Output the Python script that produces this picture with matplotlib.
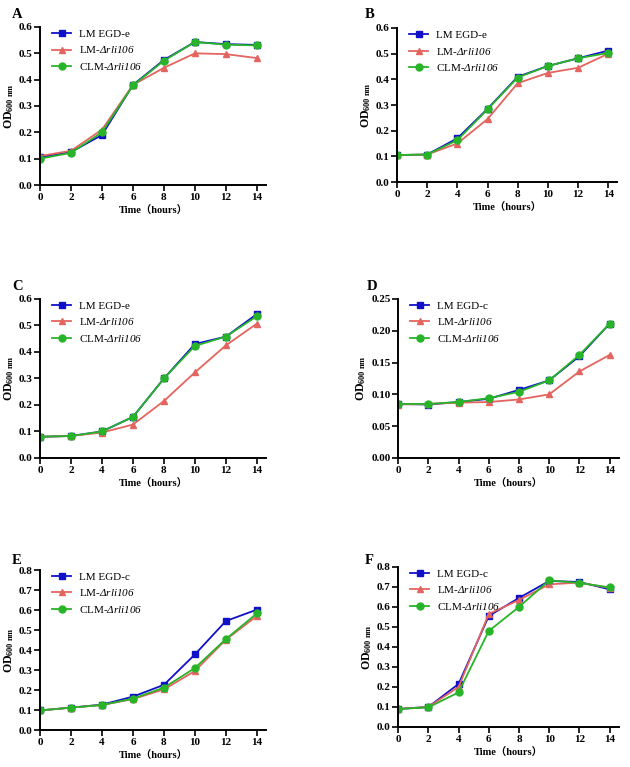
import matplotlib
matplotlib.use("Agg")
import matplotlib.pyplot as plt
import numpy as np

plt.rcParams["font.family"] = ["Liberation Serif", "Noto Sans CJK SC"]
plt.rcParams["mathtext.fontset"] = "custom"
# digits and capital Greek fall back to rm inside \mathit, so rm is italic here too
plt.rcParams["mathtext.rm"] = "Liberation Serif:italic"
plt.rcParams["mathtext.it"] = "Liberation Serif:italic"
plt.rcParams["mathtext.bf"] = "Liberation Serif:bold"

hours = [0, 2, 4, 6, 8, 10, 12, 14]
names = ["LM EGD-e", r"LM-$\mathit{\Delta rli106}$", r"CLM-$\mathit{\Delta rli106}$"]
names_c = ["LM EGD-c", r"LM-$\mathit{\Delta rli106}$", r"CLM-$\mathit{\Delta rli106}$"]

# panel A
a_wt = [0.105, 0.125, 0.19, 0.38, 0.475, 0.543, 0.535, 0.532]
a_mut = [0.11, 0.13, 0.21, 0.38, 0.445, 0.50, 0.497, 0.482]
a_comp = [0.10, 0.122, 0.20, 0.378, 0.472, 0.543, 0.533, 0.530]
# panel B
b_wt = [0.105, 0.107, 0.17, 0.285, 0.41, 0.452, 0.482, 0.512]
b_mut = [0.105, 0.107, 0.15, 0.245, 0.385, 0.425, 0.445, 0.50]
b_comp = [0.105, 0.107, 0.163, 0.283, 0.407, 0.452, 0.482, 0.503]
# panel C
c_wt = [0.08, 0.083, 0.10, 0.155, 0.30, 0.43, 0.458, 0.543]
c_mut = [0.08, 0.083, 0.096, 0.126, 0.215, 0.323, 0.425, 0.507]
c_comp = [0.08, 0.083, 0.10, 0.155, 0.30, 0.423, 0.458, 0.535]
# panel D
d_wt = [0.085, 0.084, 0.088, 0.093, 0.107, 0.122, 0.16, 0.211]
d_mut = [0.084, 0.085, 0.087, 0.088, 0.092, 0.100, 0.136, 0.162]
d_comp = [0.085, 0.085, 0.088, 0.094, 0.104, 0.122, 0.162, 0.211]
# panel E
e_wt = [0.098, 0.112, 0.127, 0.167, 0.226, 0.378, 0.545, 0.602]
e_mut = [0.098, 0.112, 0.125, 0.155, 0.203, 0.295, 0.452, 0.57]
e_comp = [0.098, 0.112, 0.125, 0.157, 0.212, 0.31, 0.455, 0.583]
# panel F
f_wt = [0.09, 0.10, 0.215, 0.555, 0.645, 0.73, 0.725, 0.688]
f_mut = [0.09, 0.10, 0.20, 0.565, 0.635, 0.713, 0.722, 0.695]
f_comp = [0.09, 0.098, 0.173, 0.48, 0.60, 0.733, 0.72, 0.698]

panels = [
    ("A", [0.0635, 0.7588, 0.359, 0.206], (a_wt, a_mut, a_comp), 0.6, 0.1, "%.1f", names, (12, 14)),
    ("B", [0.630, 0.7627, 0.35, 0.2008], (b_wt, b_mut, b_comp), 0.6, 0.1, "%.1f", names, (365, 14)),
    ("C", [0.0635, 0.4029, 0.359, 0.2073], (c_wt, c_mut, c_comp), 0.6, 0.1, "%.1f", names, (12, 287)),
    ("D", [0.632, 0.4029, 0.35, 0.2073], (d_wt, d_mut, d_comp), 0.25, 0.05, "%.2f", names_c, (367, 286)),
    ("E", [0.0635, 0.0482, 0.359, 0.2086], (e_wt, e_mut, e_comp), 0.8, 0.1, "%.1f", names_c, (12, 560)),
    ("F", [0.632, 0.0522, 0.35, 0.2086], (f_wt, f_mut, f_comp), 0.8, 0.1, "%.1f", names_c, (365, 560)),
]

colors = ["#1010c8", "#e4645f", "#28b428"]
markers = ["s", "^", "o"]

fig = plt.figure(figsize=(6.3, 7.67), dpi=100)

for tag, rect, series, ymax, ystep, fmt, labels, lpos in panels:
    ax = fig.add_axes(rect)
    for vals, col, mk, lab in zip(series, colors, markers, labels):
        ax.plot(hours, vals, color=col, marker=mk, markersize=5, lw=1.3, label=lab)
    ax.set_xlim(0, 14.6)
    ax.set_ylim(0, ymax)
    ax.set_xticks(hours)
    ax.set_yticks(np.arange(0, ymax + ystep / 2, ystep))
    ax.yaxis.set_major_formatter(matplotlib.ticker.FormatStrFormatter(fmt))
    for s in ["top", "right"]:
        ax.spines[s].set_visible(False)
    for s in ["left", "bottom"]:
        ax.spines[s].set_linewidth(1.4)
    ax.tick_params(direction="out", length=4, width=1.2, labelsize=8, pad=1.5)
    for t in ax.get_xticklabels() + ax.get_yticklabels():
        t.set_fontweight("bold")
    ax.set_xlabel("Time（hours）", fontsize=7.5, fontweight="bold", labelpad=3)
    ax.set_ylabel(r"$\mathbf{OD_{600\ nm}}$", fontsize=8.5, labelpad=2)
    ax.legend(loc="upper left", bbox_to_anchor=(0.01, 1.05), frameon=False, fontsize=8,
              handlelength=1.7, labelspacing=0.5, handletextpad=0.7)
    fig.text(lpos[0] / 630, 1 - lpos[1] / 767, tag, fontsize=10.5, fontweight="bold",
             ha="left", va="center")

fig.savefig("out.png", dpi=100)
